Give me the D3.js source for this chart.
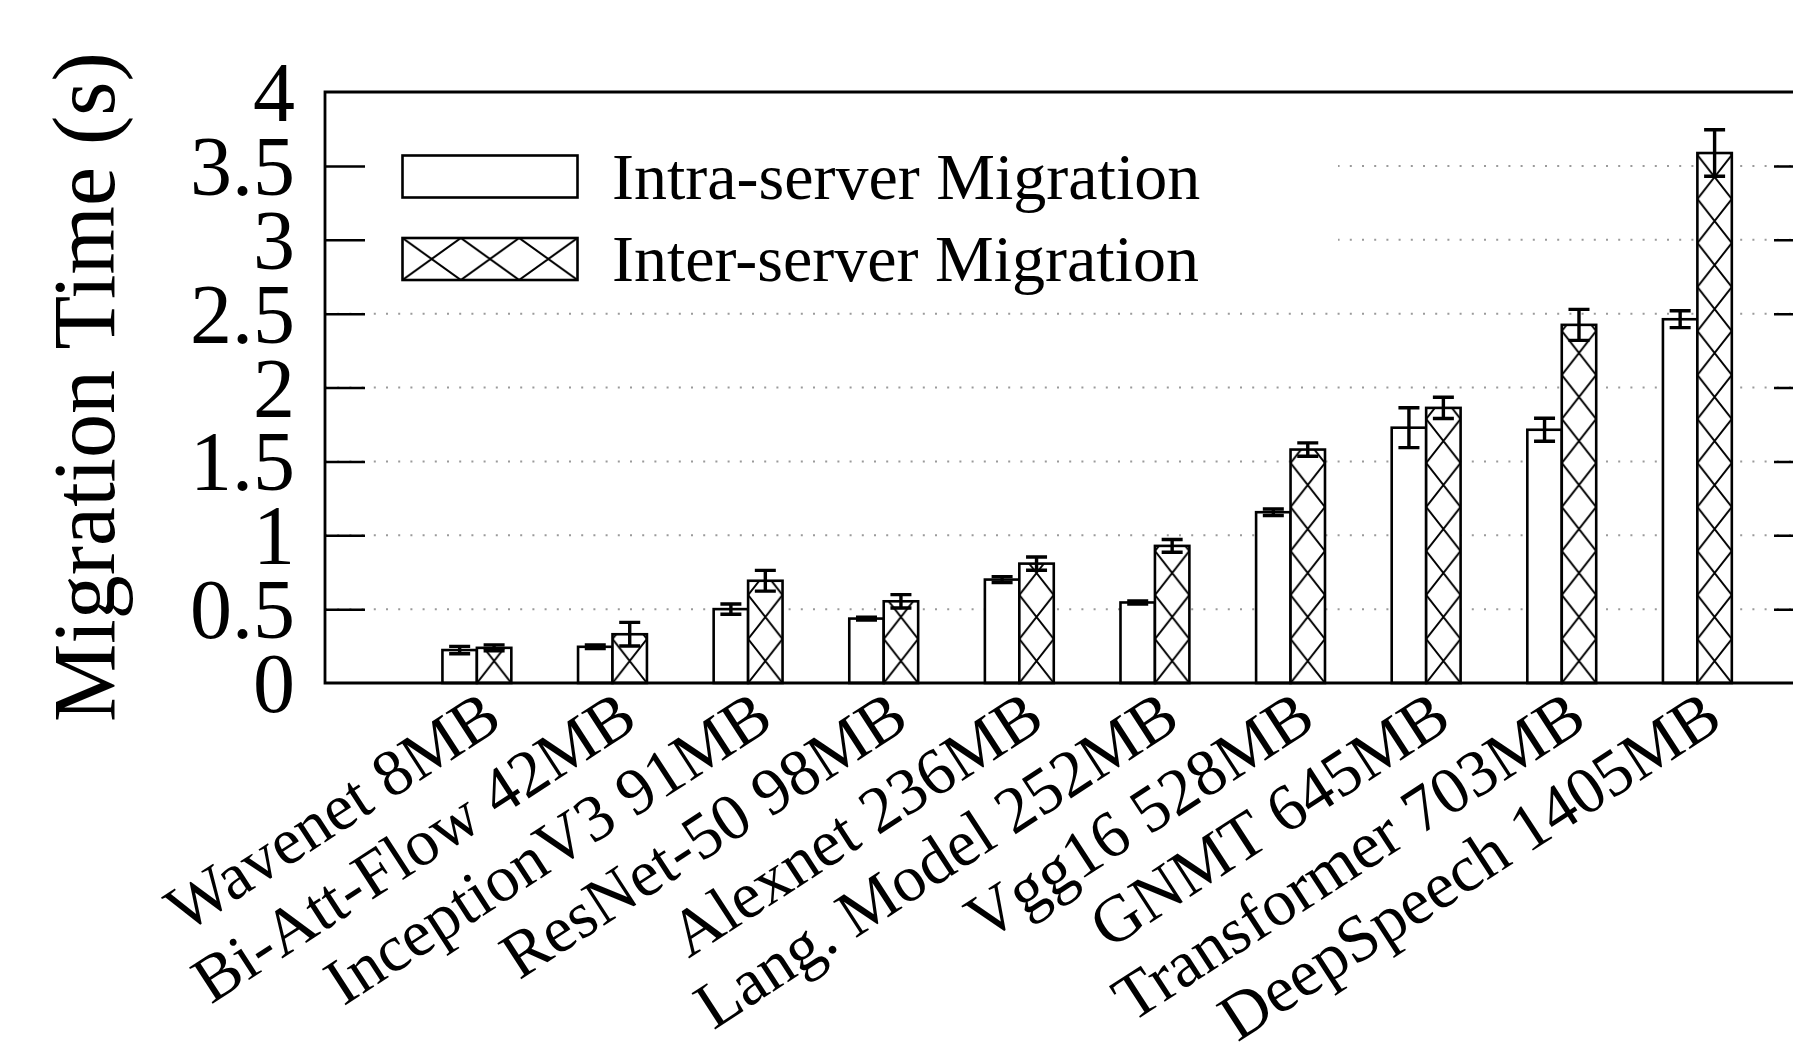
<!DOCTYPE html>
<html>
<head>
<meta charset="utf-8">
<script src="https://cdn.jsdelivr.net/npm/d3@7"></script>
<style>
  html, body { margin: 0; padding: 0; background: #fff; }
  svg { display: block; }
  text { font-family: "Liberation Serif", "DejaVu Serif", serif; fill: #000; }
</style>
</head>
<body>
<script>
const categories = ["Wavenet 8MB","Bi-Att-Flow 42MB","InceptionV3 91MB","ResNet-50 98MB","Alexnet 236MB","Lang. Model 252MB","Vgg16 528MB","GNMT 645MB","Transformer 703MB","DeepSpeech 1405MB"];
const intraValues = [0.223, 0.245, 0.500, 0.436, 0.700, 0.545, 1.156, 1.728, 1.714, 2.462];
const intraErrors = [0.025, 0.012, 0.035, 0.010, 0.020, 0.010, 0.022, 0.135, 0.078, 0.057];
const interValues = [0.238, 0.330, 0.692, 0.553, 0.808, 0.928, 1.580, 1.862, 2.424, 3.587];
const interErrors = [0.020, 0.080, 0.070, 0.045, 0.045, 0.043, 0.045, 0.072, 0.105, 0.157];
const seriesNames = ["Intra-server Migration", "Inter-server Migration"];
const yTicks = [0, 0.5, 1, 1.5, 2, 2.5, 3, 3.5, 4];
const yTickLabels = ["0", "0.5", "1", "1.5", "2", "2.5", "3", "3.5", "4"];
const yTitle = "Migration Time (s)";

(function () {
const W = 1793, H = 1061;
const pL = 325, pR = 1814, pT = 92, pB = 683;

const svg = d3.select("body").append("svg").attr("width", W).attr("height", H);
svg.append("rect").attr("width", W).attr("height", H).attr("fill", "#fff");

const xLin = d3.scaleLinear().domain([-1.12, 9.86]).range([pL, pR]);
const xPt = d3.scalePoint().domain(categories).range([xLin(0), xLin(categories.length - 1)]);
const y = d3.scaleLinear().domain([0, 4]).range([pB, pT]);
const bw = xLin(0.254) - xLin(0);
const hatchH = 44;

const defs = svg.append("defs");

// gridlines
svg.append("g").selectAll("line").data(yTicks.filter(v => v > 0 && v < 4)).join("line")
  .attr("x1", pL).attr("x2", pR)
  .attr("y1", d => y(d)).attr("y2", d => y(d))
  .attr("stroke", "#9a9a9a").attr("stroke-width", 2).attr("stroke-dasharray", "2,10.2");

// legend opaque area
svg.append("rect").attr("x", pL + 1).attr("y", pT + 1)
  .attr("width", 1338 - pL - 1).attr("height", 205).attr("fill", "#fff");

// hatch patterns per bar
categories.forEach((c, i) => {
  const x0 = xPt(c);
  const p = defs.append("pattern").attr("id", "hatch" + i)
    .attr("patternUnits", "userSpaceOnUse")
    .attr("x", x0).attr("y", y(0)).attr("width", bw).attr("height", hatchH);
  p.append("rect").attr("width", bw).attr("height", hatchH).attr("fill", "#fff");
  p.append("path").attr("d", `M0,0L${bw},${hatchH}M${bw},0L0,${hatchH}`)
    .attr("stroke", "#000").attr("stroke-width", 2).attr("fill", "none");
});

const bars = svg.append("g");
bars.selectAll(".intra").data(categories).join("rect").attr("class", "intra")
  .attr("x", d => xPt(d) - bw).attr("width", bw)
  .attr("y", (d, i) => y(intraValues[i]))
  .attr("height", (d, i) => y(0) - y(intraValues[i]))
  .attr("fill", "#fff").attr("stroke", "#000").attr("stroke-width", 2.6);
bars.selectAll(".inter").data(categories).join("rect").attr("class", "inter")
  .attr("x", d => xPt(d)).attr("width", bw)
  .attr("y", (d, i) => y(interValues[i]))
  .attr("height", (d, i) => y(0) - y(interValues[i]))
  .attr("fill", (d, i) => `url(#hatch${i})`).attr("stroke", "#000").attr("stroke-width", 2.6);

// error bars
const errG = svg.append("g").attr("stroke", "#000").attr("stroke-width", 3.4).attr("fill", "none");
function drawErr(cx, v, e) {
  const capW = 10.5;
  errG.append("path").attr("d",
    `M${cx},${y(v + e)}L${cx},${y(v - e)}` +
    `M${cx - capW},${y(v + e)}L${cx + capW},${y(v + e)}` +
    `M${cx - capW},${y(v - e)}L${cx + capW},${y(v - e)}`);
}
categories.forEach((c, i) => {
  drawErr(xPt(c) - bw / 2, intraValues[i], intraErrors[i]);
  drawErr(xPt(c) + bw / 2, interValues[i], interErrors[i]);
});

// left axis
const yAxisL = d3.axisLeft(y).tickValues(yTicks)
  .tickFormat((d, i) => yTickLabels[i]).tickSizeInner(-40).tickSizeOuter(0).tickPadding(30);
const gL = svg.append("g").attr("transform", `translate(${pL},0)`).call(yAxisL);
gL.select(".domain").remove();
gL.selectAll(".tick line").attr("stroke", "#000").attr("stroke-width", 2.5);
gL.selectAll(".tick text").attr("font-size", 84).attr("font-family", "Liberation Serif").attr("dy", "0.34em");
gL.selectAll(".tick").filter(d => d === 0 || d === 4).select("line").remove();

// right axis ticks
const yAxisR = d3.axisRight(y).tickValues(yTicks.filter(v => v > 0 && v < 4))
  .tickFormat("").tickSizeInner(-40).tickSizeOuter(0);
const gR = svg.append("g").attr("transform", `translate(${pR},0)`).call(yAxisR);
gR.select(".domain").remove();
gR.selectAll(".tick line").attr("stroke", "#000").attr("stroke-width", 2.5);

// x axis labels
const xAxis = d3.axisBottom(xPt).tickSize(0).tickPadding(0);
const gX = svg.append("g").attr("transform", `translate(0,${pB})`).call(xAxis);
gX.select(".domain").remove();
gX.selectAll(".tick text")
  .attr("font-size", 66).attr("font-family", "Liberation Serif")
  .attr("text-anchor", "end").attr("x", 0).attr("y", 0).attr("dy", 0)
  .attr("transform", "translate(27,43) rotate(-33)");

// frame
svg.append("path")
  .attr("d", `M${pR},${pT}L${pL},${pT}L${pL},${pB}L${pR},${pB}`)
  .attr("fill", "none").attr("stroke", "#000").attr("stroke-width", 2.8);

// y title
svg.append("text").attr("transform", `translate(114,387) rotate(-90)`)
  .attr("text-anchor", "middle").attr("font-size", 88).text(yTitle);

// legend
const legX = 402.5, legW = 175, legH = 42;
const legY = [155.5, 238];
const lp = defs.append("pattern").attr("id", "hatchLeg").attr("patternUnits", "userSpaceOnUse")
  .attr("x", legX).attr("y", legY[1]).attr("width", legW / 3).attr("height", legH);
lp.append("rect").attr("width", legW / 3).attr("height", legH).attr("fill", "#fff");
lp.append("path").attr("d", `M0,0L${legW / 3},${legH}M${legW / 3},0L0,${legH}`)
  .attr("stroke", "#000").attr("stroke-width", 2);

const leg = svg.append("g");
seriesNames.forEach((name, i) => {
  leg.append("rect").attr("x", legX).attr("y", legY[i]).attr("width", legW).attr("height", legH)
    .attr("fill", i === 0 ? "#fff" : "url(#hatchLeg)").attr("stroke", "#000").attr("stroke-width", 2.6);
  leg.append("text").attr("x", 612).attr("y", legY[i] + legH / 2 + 22)
    .attr("font-size", 66).text(name);
});
})();
</script>
</body>
</html>
